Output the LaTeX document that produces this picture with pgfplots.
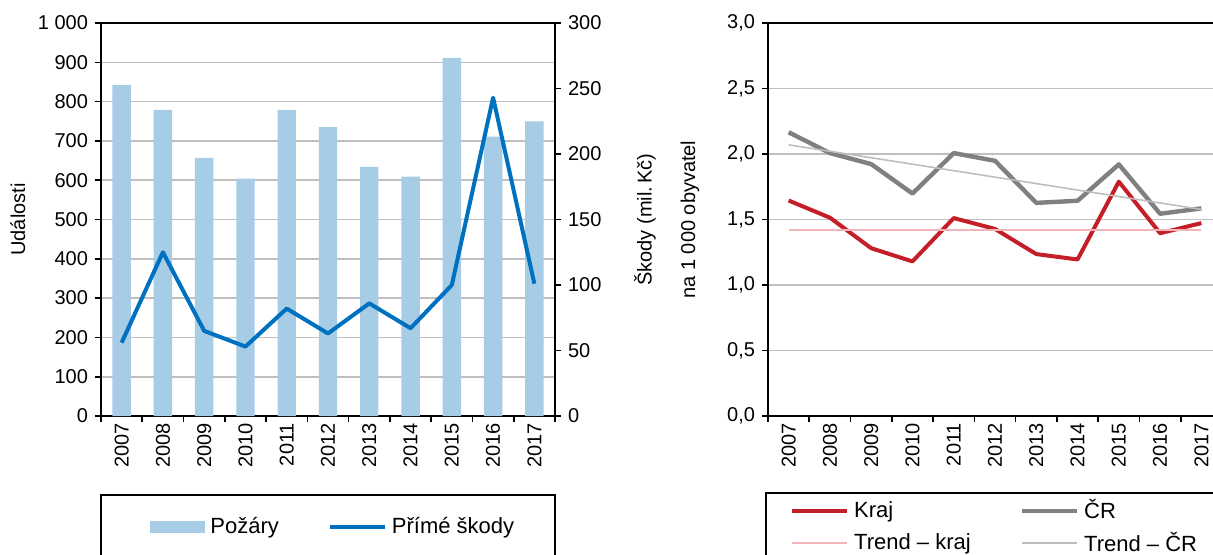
\documentclass[border=0pt]{standalone}
\usepackage{fontspec}
\setmainfont{Liberation Sans}
\usepackage{pgfplots}
\pgfplotsset{compat=1.18}

\definecolor{barblue}{RGB}{166,204,230}
\definecolor{lineblue}{RGB}{0,112,192}
\definecolor{krajred}{RGB}{196,30,40}
\definecolor{crgray}{RGB}{128,128,128}
\definecolor{trendpink}{RGB}{240,180,185}
\definecolor{trendgray}{RGB}{190,190,190}
\definecolor{gridgray}{RGB}{191,191,191}

\pgfplotsset{
  base/.style={
    scale only axis, anchor=south west,
    width=227pt, height=196.5pt,
    xmin=-0.5, xmax=10.5,
    font=\fontsize{10}{12}\selectfont,
    /pgf/number format/assume math mode=true,
    tick align=outside, major tick length=3pt,
    axis line style={line width=1pt},
    tick style={line width=0.8pt, black},
    grid style={gridgray, line width=0.8pt},
    xtick={-0.5,0.5,...,10.5}, xticklabels={}, xtick pos=bottom,
    extra x ticks={0,...,10},
    extra x tick labels={2007,2008,2009,2010,2011,2012,2013,2014,2015,2016,2017},
    extra x tick style={major tick length=0pt,
      tick label style={rotate=90, anchor=east}},
  },
  lineleg/.style={legend image code/.code={\draw[##1] (0pt,0pt) -- (27.5pt,0pt);}},
  barleg/.style={legend image code/.code={\fill[##1] (0pt,-3pt) rectangle (27.5pt,3pt);}},
  legbase/.style={legend columns=2,
    legend cell align=left,
    legend style={draw=none, fill=none, inner sep=0pt, anchor=west,
      font=\fontsize{11}{13}\selectfont,
      nodes={inner xsep=2.5pt, inner ysep=2.5pt},
      /tikz/every even column/.append style={column sep=22pt}}},
}

\begin{document}
\begin{tikzpicture}
% left chart: fires (bars) and direct damage (line)
\begin{axis}[base, at={(50.5pt,69pt)},
  ybar, bar width=9.2pt,
  ymin=0, ymax=1000, ytick={0,100,...,1000}, ytick pos=left,
  /pgf/number format/1000 sep={~},
  ymajorgrids,
  ylabel={Události},
  ylabel style={at={(axis description cs:-0.183,0.5)}, anchor=center},
  legbase,
  legend style={at={(axis description cs:0.108,-0.2824)}},
]
\addplot[fill=barblue, draw=none, barleg] coordinates {
  (0,842) (1,779) (2,657) (3,604) (4,779) (5,735)
  (6,634) (7,609) (8,911) (9,711) (10,750)};
\addlegendentry{Požáry}
\addlegendimage{lineblue, line width=2pt, lineleg}
\addlegendentry{Přímé škody}
\end{axis}

\begin{axis}[base, at={(50.5pt,69pt)},
  ymin=0, ymax=300, ytick={0,50,...,300},
  axis y line*=right, axis x line=none,
  ylabel={Škody (mil.\,Kč)},
  ylabel style={at={(axis description cs:1.198,0.5)}, anchor=center},
]
\addplot[lineblue, line width=2pt, line join=round] coordinates {
  (0,56) (1,125) (2,65) (3,53) (4,82) (5,63)
  (6,86) (7,67) (8,100) (9,243) (10,101)};
\end{axis}

% right chart: damage per 1000 inhabitants
\begin{axis}[base, at={(384pt,69pt)},
  ymin=0, ymax=3, ytick={0,0.5,...,3}, ytick pos=left,
  yticklabel style={/pgf/number format/.cd, fixed, fixed zerofill, precision=1, use comma},
  ymajorgrids,
  ylabel={na 1 000 obyvatel},
  ylabel style={at={(axis description cs:-0.172,0.5)}, anchor=center},
  legbase,
  legend style={at={(axis description cs:0.048,-0.2824)}},
]
\addplot[krajred, line width=2pt, line join=round, lineleg] coordinates {
  (0,1.645) (1,1.514) (2,1.281) (3,1.18) (4,1.511) (5,1.428)
  (6,1.236) (7,1.195) (8,1.789) (9,1.395) (10,1.473)};
\addlegendentry{Kraj}
\addplot[crgray, line width=2.2pt, line join=round, lineleg] coordinates {
  (0,2.166) (1,2.007) (2,1.923) (3,1.698) (4,2.007) (5,1.948)
  (6,1.627) (7,1.643) (8,1.921) (9,1.544) (10,1.585)};
\addlegendentry{ČR}
\addplot[trendpink, line width=0.8pt, lineleg] coordinates {(0,1.418) (10,1.418)};
\addlegendentry{Trend – kraj}
\addplot[trendgray, line width=0.8pt, lineleg] coordinates {(0,2.07) (10,1.577)};
\addlegendentry{Trend – ČR}
\end{axis}

% legend frames (cut by the lower edge, as in the source)
\draw[line width=0.6pt] (50.5pt,29.5pt) rectangle (277.5pt,-20pt);
\draw[line width=0.6pt] (383pt,30.5pt) rectangle (700pt,-20pt);

\pgfresetboundingbox
\path[use as bounding box] (0,0) rectangle (606.5pt,277pt);
\end{tikzpicture}
\end{document}
